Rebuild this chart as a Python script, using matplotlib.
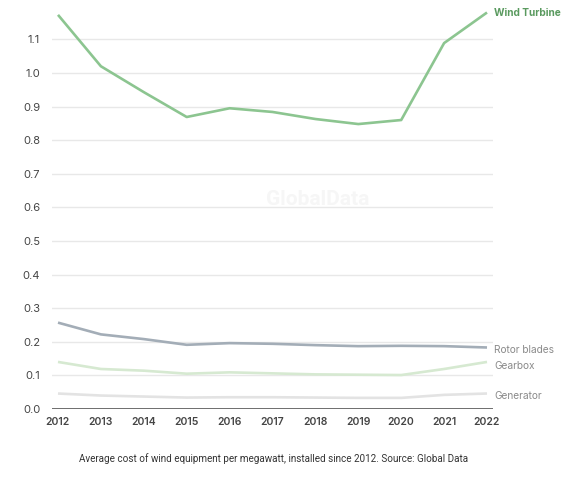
import matplotlib
matplotlib.use("Agg")
import matplotlib.pyplot as plt

years = [2012, 2013, 2014, 2015, 2016, 2017, 2018, 2019, 2020, 2021, 2022]
wind_turbine = [1.173, 1.020, 0.943, 0.869, 0.895, 0.884, 0.863, 0.848, 0.860, 1.089, 1.180]
rotor_blades = [0.257, 0.222, 0.208, 0.191, 0.196, 0.194, 0.190, 0.187, 0.188, 0.187, 0.183]
gearbox = [0.140, 0.119, 0.114, 0.105, 0.109, 0.106, 0.103, 0.102, 0.101, 0.119, 0.140]
generator = [0.046, 0.040, 0.037, 0.034, 0.035, 0.035, 0.034, 0.033, 0.033, 0.042, 0.046]
y_ticks = [0.0, 0.1, 0.2, 0.3, 0.4, 0.5, 0.6, 0.7, 0.8, 0.9, 1.0, 1.1]

series = [
    ("Generator", generator, "#e3e3e3", "#8a8a8a", "normal", -2),
    ("Gearbox", gearbox, "#d6e9d1", "#8a8a8a", "normal", -3),
    ("Rotor blades", rotor_blades, "#a3adb7", "#8a8a8a", "normal", -1.5),
    ("Wind Turbine", wind_turbine, "#8cc590", "#5a9a5f", "bold", 0),
]

fig = plt.figure(figsize=(5.67, 4.78), dpi=100)
ax = fig.add_axes([0.0917, 0.1444, 0.7778, 0.8435])
ax.set_xlim(2011.86, 2022.14)
ax.set_ylim(0, 1.2)

for y in y_ticks[1:]:
    ax.axhline(y, color="#e8e8e8", lw=1.0, zorder=0)
ax.axhline(0, color="#555555", lw=1.2, zorder=1)

ax.text(2018.06, 0.622, "GlobalData", fontsize=15, fontweight="bold",
        color="#f6f6f6", ha="center", va="center", family="Roboto", zorder=0)

for name, vals, col, tcol, fw, dy in series:
    ax.plot(years, vals, color=col, lw=1.9, solid_capstyle="butt", zorder=2)
    ax.annotate(name, xy=(years[-1], vals[-1]), xytext=(5, dy),
                textcoords="offset points", va="center", ha="left",
                fontsize=7.3, color=tcol, fontweight=fw, family="Inter",
                annotation_clip=False)

ax.set_xticks(years)
ax.set_xticklabels([str(y) for y in years], fontsize=7.5, color="#444444",
                   fontweight="semibold", family="Inter")
ax.set_yticks(y_ticks)
ax.set_yticklabels([f"{v:.1f}" for v in y_ticks], fontsize=8, color="#444444",
                   family="Inter")
ax.tick_params(length=0, pad=6)
ax.tick_params(axis="y", pad=8.5)
for s in ax.spines.values():
    s.set_visible(False)

fig.text(0.483, 0.04, "Average cost of wind equipment per megawatt, installed since 2012. Source: Global Data",
         ha="center", va="center", fontsize=7.1, color="#333333", family="Roboto")

fig.savefig("out.png", dpi=100)
